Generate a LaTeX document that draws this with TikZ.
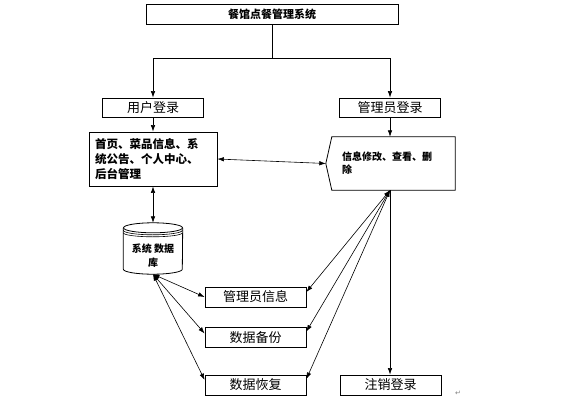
\documentclass[tikz,border=0pt]{standalone}
\usepackage{fontspec}
\setmainfont{Noto Sans CJK SC}
\newfontfamily\symfont{DejaVu Sans}
\usetikzlibrary{scopes,arrows.meta}

\begin{document}
\begin{tikzpicture}[
    x=1pt,y=1pt,
    con/.style={>={Latex[length=6.5pt,width=4.5pt]},draw=black,line width=0.6pt},
    box/.style={draw=black,line width=0.8pt,minimum width=101pt,minimum height=20pt,inner sep=0pt,font=\fontsize{13}{15}\selectfont},
    db/.style={minimum width=59pt,minimum height=51pt,inner sep=0pt},
]
    \useasboundingbox (0,0) rectangle (561,405);
    \node[box,minimum width=252pt,font=\fontsize{11}{13}\selectfont\bfseries] (title) at (272,391) {餐馆点餐管理系统};
    \node[box,minimum height=19pt] (user) at (153,297.5) {用户登录};
    \node[box,minimum height=19pt] (admin) at (390,297.5) {管理员登录};
    \node[box,minimum width=128pt,minimum height=54pt,inner xsep=6pt,text width=116pt,align=left,
        font=\fontsize{11.5}{15}\selectfont\bfseries] (front) at (153,246)
        {首页、菜品信息、系\\统公告、个人中心、\\后台管理};
    \node[minimum width=123pt,minimum height=53pt,inner xsep=10pt,inner ysep=0pt,text width=103pt,align=left,
        font=\fontsize{10}{13}\selectfont\bfseries] (info) at (393.5,241.5)
        {信息修改、查看、删\\除};
    \draw[line width=0.8pt] (info.north west) -- (info.north east) -- (info.south east)
        -- (info.south west) -- ([xshift=-6pt]info.west) -- cycle;
    \node[db] (db) at (153,156.5) {};
    \draw[line width=0.8pt] ([yshift=-5pt]db.north west) -- ([yshift=5pt]db.south west)
        arc[start angle=180,end angle=360,x radius=29.5,y radius=5] -- ([yshift=-5pt]db.north east);
    \draw[line width=0.8pt] ([yshift=-5pt]db.north) ellipse[x radius=29.5,y radius=5];
    \draw[line width=0.6pt] ([yshift=-7.5pt]db.north west) arc[start angle=180,end angle=360,x radius=29.5,y radius=4.5];
    \draw[line width=0.6pt] ([yshift=-10pt]db.north west) arc[start angle=180,end angle=360,x radius=29.5,y radius=4];
    \node[font=\fontsize{10}{14}\selectfont\bfseries,align=center] (dbtext) at ([yshift=-7pt]db.center) {系统 数据\\库};
    \node[box] (mgr) at (255.5,108) {管理员信息};
    \node[box] (bak) at (255.5,67.5) {数据备份};
    \node[box] (res) at (255.5,20) {数据恢复};
    \node[box] (logout) at (390.5,20) {注销登录};
    \node[font=\symfont\fontsize{7}{7}\selectfont,text=gray] (mark) at (458,12) {↵};

    \coordinate (split) at (272,347);
    \coordinate (hub) at (admin.south |- info.south);
    {[con]
        \draw (title.south) -- (split);
        \draw[->] (split) -| (user.north);
        \draw[->] (split) -| (admin.north);
        \draw[->] (user.south) -- (front.north);
        \draw[->] (admin.south) -- (admin.south |- info.north);
        \draw[<->] (front.east) -- ([xshift=-6pt]info.west);
        \draw[<->] (front.south) -- (db.north);
        \draw[<->] (db.south) -- (mgr.west);
        \draw[<->] (db.south) -- ([yshift=4pt]bak.west);
        \draw[<->] (db.south) -- ([yshift=5pt]res.west);
        \draw[<->] (hub) -- ([yshift=5pt]mgr.east);
        \draw[<->] (hub) -- ([yshift=6pt]bak.east);
        \draw[<->] (hub) -- ([yshift=6pt]res.east);
        \draw[->] (hub) -- (hub |- logout.north);
    }
\end{tikzpicture}
\end{document}
